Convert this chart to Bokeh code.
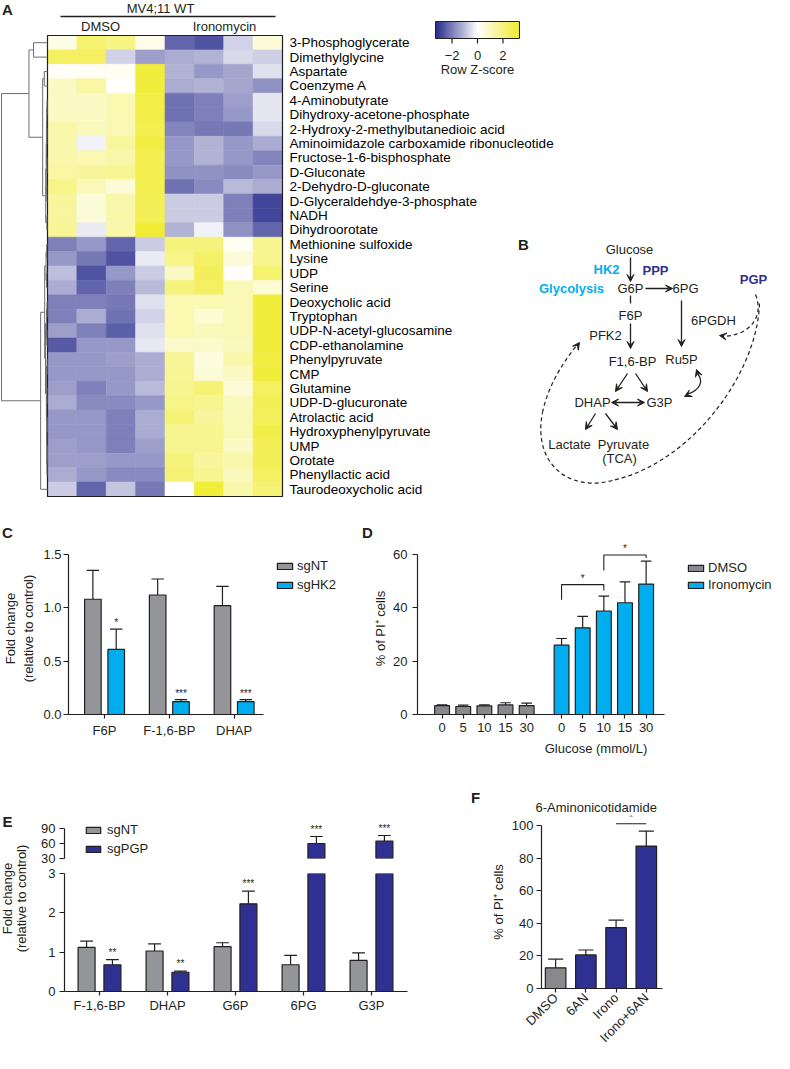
import math
import numpy as np
from bokeh.plotting import figure
from bokeh.layouts import row, column
from bokeh.models import (Range1d, FixedTicker, LinearColorMapper, Legend, LegendItem,
                          Arrow, VeeHead, ColumnDataSource, Title)
from bokeh.embed import file_html
from bokeh.resources import INLINE
from bokeh.core.properties import value

FONT = "Liberation Sans"
INK = "#231f20"
GREY = "#939598"
DGREY = "#88898c"
CYAN = "#00aeef"
NAVY = "#2e3192"

# ---------------- data ----------------
metabolites = [
    "3-Phosphoglycerate", "Dimethylglycine", "Aspartate", "Coenzyme A", "4-Aminobutyrate",
    "Dihydroxy-acetone-phosphate", "2-Hydroxy-2-methylbutanedioic acid",
    "Aminoimidazole carboxamide ribonucleotide", "Fructose-1-6-bisphosphate", "D-Gluconate",
    "2-Dehydro-D-gluconate", "D-Glyceraldehdye-3-phosphate", "NADH", "Dihydroorotate",
    "Methionine sulfoxide", "Lysine", "UDP", "Serine", "Deoxycholic acid", "Tryptophan",
    "UDP-N-acetyl-glucosamine", "CDP-ethanolamine", "Phenylpyruvate", "CMP", "Glutamine",
    "UDP-D-glucuronate", "Atrolactic acid", "Hydroxyphenylpyruvate", "UMP", "Orotate",
    "Phenyllactic acid", "Taurodeoxycholic acid"]
heat_groups = ["DMSO", "Ironomycin"]
z_dmso = [
    [0.4, 2.2, 1.9, 0.3], [2.4, 2.4, -0.7, -1.5], [0.1, 0.15, 0.2, 3.0], [0.9, 1.4, 0.05, 3.0],
    [0.9, 0.9, 1.2, 2.8], [0.9, 0.9, 1.2, 2.8], [1.3, 1.0, 1.1, 2.7], [1.3, -0.2, 1.5, 2.9],
    [1.3, 1.2, 1.3, 2.7], [1.4, 1.5, 1.6, 2.7], [1.8, 1.1, 0.6, 2.7], [1.5, 0.6, 1.3, 2.6],
    [1.5, 0.6, 1.3, 2.6], [1.6, -0.3, 1.3, 3.1], [-2.0, -1.6, -2.4, -0.8], [-1.6, -2.1, -2.7, -0.3],
    [-1.0, -2.7, -1.6, -0.8], [-1.3, -2.4, -2.0, -1.1], [-2.0, -2.0, -2.1, -0.5], [-2.0, -1.3, -2.2, -0.7],
    [-1.5, -2.0, -2.5, -0.5], [-2.6, -1.6, -1.6, -0.35], [-1.6, -1.6, -1.5, -1.3], [-1.6, -1.6, -1.6, -1.3],
    [-1.5, -2.0, -1.6, -1.1], [-1.3, -1.8, -1.8, -1.6], [-1.6, -1.6, -2.0, -1.3], [-1.6, -1.6, -2.0, -1.3],
    [-1.5, -1.6, -2.0, -1.5], [-1.5, -1.5, -1.6, -1.6], [-1.3, -1.6, -1.8, -1.8], [-0.8, -2.4, -0.9, -2.1]]
z_irono = [
    [-2.4, -2.7, -0.7, 0.6], [-1.3, -1.2, -0.6, -0.75], [-1.2, -1.6, -1.4, -0.5], [-1.3, -1.2, -1.4, -1.7],
    [-2.2, -2.0, -1.5, -0.4], [-2.2, -2.0, -1.6, -0.4], [-1.9, -2.1, -2.1, -0.6], [-1.6, -1.2, -1.6, -1.3],
    [-1.6, -1.2, -1.6, -1.9], [-1.7, -1.7, -1.8, -1.6], [-2.2, -1.8, -1.1, -1.3], [-0.8, -0.8, -2.0, -2.9],
    [-0.8, -0.8, -2.0, -2.9], [-1.2, -0.2, -1.7, -2.4], [2.0, 2.0, 0.2, 1.7], [1.8, 2.3, 0.6, 1.7],
    [0.9, 2.5, 0.1, 2.2], [2.0, 2.4, 1.1, 0.7], [1.2, 1.2, 1.1, 3.0], [1.2, 0.7, 1.1, 3.0],
    [1.2, 1.0, 1.1, 3.0], [0.8, 0.8, 1.0, 3.0], [1.6, 0.5, 1.3, 2.9], [1.6, 0.6, 0.9, 3.0],
    [1.7, 2.1, 0.6, 2.4], [1.8, 1.7, 1.0, 2.6], [2.1, 1.5, 1.1, 2.5], [1.7, 1.7, 1.1, 2.8],
    [1.7, 1.7, 0.9, 2.6], [2.0, 1.5, 1.3, 2.6], [2.1, 1.7, 1.0, 2.4], [0.0, 3.0, 1.3, 2.1]]
zscore_ticks = [-2, 0, 2]
# row dendrogram: [left, right, merge height]; leaves are row indices
dendro_top = [[0, 1, 17.3],
              [[2, 3, 4.0],
               [[[[[4, 5, 0.6], [6, 7, 0.8], 1.0], [8, 9, 0.7], 1.3], [10, 11, 0.9], 1.6], [12, 13, 0.8], 2.2],
               6.0],
              23.0]
dendro_bottom = [[[[14, 15, 1.0], [16, 17, 1.2], 1.8],
                  [[[18, 19, 0.6], [20, 21, 0.8], 1.2],
                   [[22, 23, 0.5], [[24, 25, 0.7], [[26, 27, 0.4], [[28, 29, 0.4], 30, 0.7], 0.9], 1.1], 1.4],
                   2.5],
                  3.5],
                 31, 8.5]
dendro_root = [dendro_top, dendro_bottom, 57.0]

c_categories = ["F6P", "F-1,6-BP", "DHAP"]
c_sgnt = [1.08, 1.12, 1.02]
c_sgnt_sem = [0.27, 0.15, 0.18]
c_sghk2 = [0.61, 0.12, 0.12]
c_sghk2_sem = [0.19, 0.02, 0.02]
c_stars = ["*", "***", "***"]

d_glucose = ["0", "5", "10", "15", "30"]
d_dmso = [3.3, 3.0, 3.2, 3.6, 3.3]
d_dmso_sem = [0.3, 0.5, 0.4, 0.8, 1.0]
d_irono = [26.0, 32.5, 38.8, 41.9, 48.9]
d_irono_sem = [2.5, 4.3, 5.6, 7.8, 8.6]
d_pairs = [(0, 2), (2, 4)]
d_pair_stars = ["*", "*"]

e_categories = ["F-1,6-BP", "DHAP", "G6P", "6PG", "G3P"]
e_sgnt = [1.12, 1.03, 1.14, 0.68, 0.79]
e_sgnt_sem = [0.16, 0.18, 0.10, 0.24, 0.19]
e_sgpgp = [0.68, 0.49, 2.23, 60.0, 65.0]
e_sgpgp_sem = [0.13, 0.03, 0.32, 14.0, 11.0]
e_stars = ["**", "**", "***", "***", "***"]

f_treatments = ["DMSO", "6AN", "Irono", "Irono+6AN"]
f_values = [12.7, 20.6, 37.3, 87.3]
f_sem = [5.3, 3.0, 4.6, 9.2]
f_colors = [DGREY, NAVY, NAVY, NAVY]
f_pair = (2, 3)
f_pair_star = "*"


# ---------------- helpers ----------------
def rng(page_a, page_b, page_ref, val_ref, ppu):
    """Range whose start sits at page coordinate page_a and end at page_b."""
    return Range1d(val_ref + (page_a - page_ref) / ppu, val_ref + (page_b - page_ref) / ppu)


def make_fig(width, height, xr, yr, left=0, right=0, top=0, bottom=0, xloc="below", yloc="left"):
    p = figure(width=width, height=height, x_range=xr, y_range=yr, title=None,
               output_backend="svg", toolbar_location=None,
               x_axis_location=xloc, y_axis_location=yloc,
               min_border_left=left, min_border_right=right,
               min_border_top=top, min_border_bottom=bottom)
    p.background_fill_color = None
    p.border_fill_color = None
    p.outline_line_color = None
    p.grid.visible = False
    return p


def style_axis(ax, size="13px", tick_out=5, standoff=3):
    ax.axis_line_color = INK
    ax.axis_line_width = 1.2
    ax.major_tick_line_color = INK
    ax.major_tick_line_width = 1.2
    ax.major_tick_out = tick_out
    ax.major_tick_in = 0
    ax.minor_tick_line_color = None
    ax.major_label_standoff = standoff
    ax.major_label_text_font = FONT
    ax.major_label_text_font_size = size
    ax.major_label_text_color = INK
    ax.axis_label_text_font = FONT
    ax.axis_label_text_font_size = size
    ax.axis_label_text_font_style = "normal"
    ax.axis_label_text_color = INK


def error_bars(p, xs, vals, sems, capw):
    tops = [v + s for v, s in zip(vals, sems)]
    p.segment(x0=xs, y0=vals, x1=xs, y1=tops, line_color=INK, line_width=1.2)
    p.segment(x0=[x - capw / 2 for x in xs], y0=tops, x1=[x + capw / 2 for x in xs], y1=tops,
              line_color=INK, line_width=1.2)
    return tops


def stars(p, xs, ys, labels, off=-1):
    p.text(x=xs, y=ys, text=labels, text_align="center", text_baseline="bottom", y_offset=off,
           text_font=value(FONT), text_font_size="10px", text_color=INK)


def legend(p, renderers, labels, loc, row_h, gw=19, gh=8, standoff=3):
    lg = Legend(items=[LegendItem(label=l, renderers=[r]) for l, r in zip(labels, renderers)],
                location=loc, orientation="vertical")
    lg.border_line_color = None
    lg.background_fill_alpha = 0
    lg.inactive_fill_alpha = 0
    lg.padding = 0
    lg.margin = 0
    lg.spacing = 0
    lg.glyph_width = gw
    lg.glyph_height = gh
    lg.label_height = row_h
    lg.label_standoff = standoff
    lg.label_text_font = FONT
    lg.label_text_font_size = "13px"
    lg.label_text_color = INK
    p.add_layout(lg)


def ptext(p, x, y, s, size="13px", color=INK, style="normal", align="center", angle=0.0, **kw):
    p.text(x=[x], y=[y], text=[s], text_font=value(FONT), text_font_size=size, text_color=color,
           text_font_style=style, text_align=align, text_baseline="middle", angle=angle, **kw)


def ramp(c0, c1, n):
    return ["#%02x%02x%02x" % tuple(int(round(a + (b - a) * t)) for a, b in zip(c0, c1))
            for t in np.linspace(0, 1, n)]


# ================= row 1: panels A and B (page coords 8..782 x 8..550) =================
top = make_fig(774, 542, Range1d(8, 782), Range1d(550, 8), xloc=None, yloc=None)
CELL_W, CELL_H = 29.375, 461 / 32
top.extra_x_ranges = {
    "hx": rng(8, 782, 55 + CELL_W / 2, 0, CELL_W),      # heatmap column index
    "dx": rng(8, 782, 55, 0, -0.807),                   # dendrogram height
    "cbx": rng(8, 782, 485, 0, 12.727),                 # colour-key z score
}
top.extra_y_ranges = {
    "hy": rng(550, 8, 43 + CELL_H / 2, 0, CELL_H),      # heatmap row index (downwards)
    "cby": rng(550, 8, 46, 0, -17),                     # colour-key bar height
}

palette = ramp((40, 45, 140), (255, 255, 255), 128) + ramp((255, 255, 255), (240, 235, 40), 128)[1:]
mapper = LinearColorMapper(palette=palette, low=-3.3, high=3.3)

hx, hy, hz = [], [], []
for r in range(len(metabolites)):
    for c, zv in enumerate(z_dmso[r] + z_irono[r]):
        hx.append(c)
        hy.append(r)
        hz.append(zv)
top.rect(x="x", y="y", width=1, height=1, source=ColumnDataSource(dict(x=hx, y=hy, z=hz)),
         fill_color={"field": "z", "transform": mapper},
         line_color={"field": "z", "transform": mapper}, line_width=0.6,
         x_range_name="hx", y_range_name="hy")
ncol = len(z_dmso[0]) + len(z_irono[0])
top.quad(left=[-0.5], right=[ncol - 0.5], top=[-0.5], bottom=[len(metabolites) - 0.5],
         fill_color=None, line_color=INK, line_width=1.2, x_range_name="hx", y_range_name="hy")
top.text(x=[ncol - 0.5 + 7 / CELL_W] * len(metabolites), y=list(range(len(metabolites))), text=metabolites,
         text_font=value(FONT), text_font_size="13.5px", text_color="#000000",
         text_align="left", text_baseline="middle", x_range_name="hx", y_range_name="hy")

dxs, dys = [], []


def walk(node):
    if isinstance(node, int):
        return float(node), 0.0
    a, b, h = node
    y1, h1 = walk(a)
    y2, h2 = walk(b)
    dxs.append([h1, h, h, h2])
    dys.append([y1, y1, y2, y2])
    return (y1 + y2) / 2, h


walk(dendro_root)
top.multi_line(xs=dxs, ys=dys, line_color="#6d6e71", line_width=1, x_range_name="dx", y_range_name="hy")

# colour key
top.image(image=[np.linspace(-3.3, 3.3, 256)[None, :]], x=-3.3, y=0, dw=6.6, dh=1, color_mapper=mapper,
          x_range_name="cbx", y_range_name="cby")
top.quad(left=[-3.3], right=[3.3], bottom=[0], top=[1], fill_color=None, line_color=INK, line_width=1,
         x_range_name="cbx", y_range_name="cby")
top.segment(x0=zscore_ticks, y0=[0] * 3, x1=zscore_ticks, y1=[-5 / 17] * 3, line_color=INK, line_width=1.2,
            x_range_name="cbx", y_range_name="cby")
top.text(x=zscore_ticks, y=[-1.0] * 3, text=["\u22122" if t < 0 else str(t) for t in zscore_ticks],
         text_font=value(FONT), text_font_size="13px", text_color=INK, text_align="center",
         text_baseline="middle", x_range_name="cbx", y_range_name="cby")
ptext(top, 0, -1.85, "Row Z-score", x_range_name="cbx", y_range_name="cby")

# panel letters and heatmap header
for letter, (lx, ly) in zip("ABCD", [(15, 17), (531, 252), (15, 540), (375, 540)]):
    ptext(top, lx, ly, letter, size="15px", style="bold")
ptext(top, 168, 15.5, "MV4;11 WT")
top.segment(x0=[68], y0=[24], x1=[283], y1=[24], line_color=INK, line_width=1.3)
ptext(top, 108, 33.5, heat_groups[0])
ptext(top, 232, 33.5, heat_groups[1])


def arrow(x0, y0, x1, y1, both=False, shaft=True):
    head = dict(size=7, fill_color=INK, line_color=INK, line_width=1)
    a = Arrow(end=VeeHead(**head), start=VeeHead(**head) if both else None,
              x_start=x0, y_start=y0, x_end=x1, y_end=y1,
              line_color=INK if shaft else None, line_width=1.3)
    top.add_layout(a)


# pathway B
for s, x, y in [("Glucose", 637, 257), ("G6P", 638, 296), ("6PG", 693, 296), ("F6P", 638, 323),
                ("6PGDH", 721, 328), ("PFK2", 613, 343), ("F1,6-BP", 640, 369), ("Ru5P", 689, 367),
                ("DHAP", 600, 410), ("G3P", 667, 410), ("Lactate", 577, 452), ("Pyruvate", 631, 452),
                ("(TCA)", 627, 466)]:
    ptext(top, x, y, s)
for s, x, y, col in [("HK2", 614, 277, CYAN), ("PPP", 663, 278, NAVY), ("Glycolysis", 579, 296, CYAN),
                     ("PGP", 761, 287, NAVY)]:
    ptext(top, x, y, s, color=col, style="bold")

arrow(638, 265, 638, 289)
arrow(653, 296, 680, 296)
top.segment(x0=[638], y0=[303], x1=[638], y1=[311], line_color=INK, line_width=1.3)
arrow(638, 331, 638, 356)
arrow(689, 308, 689, 354)
arrow(635, 381, 623, 399)
arrow(643, 381, 655, 399)
arrow(619, 410, 652, 410, both=True)
arrow(603, 421, 593, 437)
arrow(613, 421, 625, 437)
top.bezier(x0=[704], y0=[380], x1=[694], y1=[402], cx0=[712], cy0=[388], cx1=[708], cy1=[398],
           line_color=INK, line_width=1.3)
arrow(706, 383, 704, 377, shaft=False)
arrow(698, 401, 692, 404, shaft=False)
dash = dict(line_color=INK, line_width=1.2, line_dash="4 3")
top.bezier(x0=[763], y0=[302], x1=[730], y1=[344], cx0=[772], cy0=[325], cx1=[757], cy1=[343], **dash)
arrow(734, 344, 727, 343, shaft=False)
top.bezier(x0=[767, 620, 550], y0=[311, 488, 420], x1=[620, 550, 585], y1=[488, 420, 352],
           cx0=[765, 575, 555], cy0=[380, 500, 395], cx1=[700, 540, 570], cy1=[470, 470, 370], **dash)
arrow(582, 357, 587, 350, shaft=False)

# ================= row 2: panels C and D (page y 550..790) =================
# C: frame page x 68..378, y 550..723
pc = make_fig(370, 240, rng(68, 378, 105, 0, 66.5), rng(723, 550, 723, 0, -107.33),
              left=60, right=0, top=0, bottom=67)
cx = list(range(len(c_categories)))
c_off, c_w = 0.18, 0.256
x_nt = [i - c_off for i in cx]
x_hk = [i + c_off for i in cx]
error_bars(pc, x_nt, c_sgnt, c_sgnt_sem, c_w * 0.75)
t_hk = error_bars(pc, x_hk, c_sghk2, c_sghk2_sem, c_w * 0.75)
rc1 = pc.vbar(x=x_nt, top=c_sgnt, width=c_w, fill_color=GREY, line_color=INK, line_width=1.2)
rc2 = pc.vbar(x=x_hk, top=c_sghk2, width=c_w, fill_color=CYAN, line_color=INK, line_width=1.2)
stars(pc, x_hk, t_hk, c_stars, off=-1)
ax = pc.xaxis[0]
style_axis(ax, tick_out=4, standoff=4)
ax.ticker = FixedTicker(ticks=cx)
ax.major_label_overrides = {i: n for i, n in enumerate(c_categories)}
ax.bounds = (pc.x_range.start, len(c_categories) - 0.55)
ay = pc.yaxis[0]
style_axis(ay, tick_out=5, standoff=2)
ay.ticker = FixedTicker(ticks=[0, 0.5, 1.0, 1.5])
ay.major_label_overrides = {0: "0.0", 0.5: "0.5", 1: "1.0", 1.5: "1.5"}
ay.bounds = (0, 1.5)
ay.axis_label = "Fold change\n(relative to control)"
ay.axis_label_standoff = 4
legend(pc, [rc1, rc2], ["sgNT", "sgHK2"], (207, 120), 19)

# D: frame page x 419..782, y 550..722
pdd = make_fig(404, 240, rng(419, 782, 444, 0, 21.5), rng(722, 550, 722, 0, -2.667),
               left=41, right=0, top=0, bottom=68)
d_gap = 5.65
dx_dmso = list(range(len(d_glucose)))
dx_iron = [i + d_gap for i in range(len(d_glucose))]
d_w = 0.7
error_bars(pdd, dx_dmso, d_dmso, d_dmso_sem, 0.5)
error_bars(pdd, dx_iron, d_irono, d_irono_sem, 0.5)
rd1 = pdd.vbar(x=dx_dmso, top=d_dmso, width=d_w, fill_color=DGREY, line_color=INK, line_width=1.2)
rd2 = pdd.vbar(x=dx_iron, top=d_irono, width=d_w, fill_color=CYAN, line_color=INK, line_width=1.2)
d_bracket_level = [48.7, 59.8]
d_leg_left = [43.0, 54.0]
d_leg_right = [46.5, 58.7]
for (a, b), lvl, ll, rl in zip(d_pairs, d_bracket_level, d_leg_left, d_leg_right):
    xa, xb = dx_iron[a], dx_iron[b]
    pdd.multi_line(xs=[[xa, xa, xb, xb]], ys=[[ll, lvl, lvl, rl]], line_color=INK, line_width=1.1)
stars(pdd, [(dx_iron[a] + dx_iron[b]) / 2 for a, b in d_pairs], d_bracket_level, d_pair_stars, off=-1)
ax = pdd.xaxis[0]
style_axis(ax, tick_out=4, standoff=4)
ax.ticker = FixedTicker(ticks=dx_dmso + dx_iron)
ax.major_label_overrides = {x: g for x, g in zip(dx_dmso + dx_iron, d_glucose + d_glucose)}
ax.bounds = (pdd.x_range.start, dx_iron[-1] + 0.86)
ax.axis_label = "Glucose (mmol/L)"
ax.axis_label_standoff = 6
ay = pdd.yaxis[0]
style_axis(ay, tick_out=5, standoff=5)
ay.ticker = FixedTicker(ticks=[0, 20, 40, 60])
ay.bounds = (0, 60)
ay.axis_label = "% of PI\u207a cells"
ay.axis_label_standoff = 2
legend(pdd, [rd1, rd2], ["DMSO", "Ironomycin"], (269, 121), 17)

# ================= row 3: panels E and F (page y 790..1061) =================
ecol = make_fig(32, 271, Range1d(8, 40), Range1d(1061, 790), xloc=None, yloc=None)
ptext(ecol, 15, 799, "E", size="15px", style="bold")
ptext(ecol, 15, 920, "Fold change", angle=math.pi / 2)
ptext(ecol, 29, 920, "(relative to control)", angle=math.pi / 2)

E_BREAK = 30
E_LOW_MAX = 3
e_xr = rng(72, 495, 107, 0, 68)
ex = list(range(len(e_categories)))
e_off, e_w = 0.19, 0.25
ex_nt = [i - e_off for i in ex]
ex_pg = [i + e_off for i in ex]
# upper segment: frame page x 72..495, y 790..866 (30 -> 866, 0.5 px per unit)
peu = make_fig(455, 83, e_xr, rng(866, 790, 866, E_BREAK, -0.5), left=32, right=0, top=0, bottom=7, xloc=None)
# lower segment: frame page y 881..999 (0..3)
pel = make_fig(455, 188, e_xr, Range1d(0, E_LOW_MAX), left=32, right=0, top=8, bottom=62)


def draw_e(p, lo, hi):
    keep_nt = [i for i, v in enumerate(e_sgnt) if v > lo]
    keep_pg = [i for i, v in enumerate(e_sgpgp) if v > lo]
    xn = [ex_nt[i] for i in keep_nt]
    xp = [ex_pg[i] for i in keep_pg]
    error_bars(p, xn, [e_sgnt[i] for i in keep_nt], [e_sgnt_sem[i] for i in keep_nt], e_w * 0.75)
    tp = error_bars(p, xp, [e_sgpgp[i] for i in keep_pg], [e_sgpgp_sem[i] for i in keep_pg], e_w * 0.75)
    r1 = p.vbar(x=xn, top=[e_sgnt[i] for i in keep_nt], width=e_w, fill_color=GREY, line_color=INK,
                line_width=1.2)
    r2 = p.vbar(x=xp, top=[e_sgpgp[i] for i in keep_pg], width=e_w, fill_color=NAVY, line_color=INK,
                line_width=1.2)
    s_idx = [k for k, t in enumerate(tp) if t < hi]
    stars(p, [xp[k] for k in s_idx], [tp[k] for k in s_idx], [e_stars[keep_pg[k]] for k in s_idx], off=-2)
    return r1, r2


draw_e(pel, 0, E_LOW_MAX)
_, r_pg_up = draw_e(peu, E_BREAK, 1e9)
# legend key for sgNT in the upper segment (no sgNT bar reaches it): hidden full-data renderer
r_nt_key = peu.vbar(x=ex_nt, top=e_sgnt, width=e_w, fill_color=GREY, line_color=INK, line_width=1.2,
                    visible=False)
ax = pel.xaxis[0]
style_axis(ax, tick_out=4, standoff=2)
ax.ticker = FixedTicker(ticks=ex)
ax.major_label_overrides = {i: n for i, n in enumerate(e_categories)}
ax.bounds = (e_xr.start, len(e_categories) - 0.47)
ay = pel.yaxis[0]
style_axis(ay, tick_out=5, standoff=4)
ay.ticker = FixedTicker(ticks=[0, 1, 2, 3])
ay.bounds = (0, E_LOW_MAX)
ay = peu.yaxis[0]
style_axis(ay, tick_out=5, standoff=4)
ay.ticker = FixedTicker(ticks=[30, 60, 90])
ay.bounds = (30, 90)
legend(peu, [r_nt_key, r_pg_up], ["sgNT", "sgPGP"], (20, 0), 19, gw=18, gh=8, standoff=5)
peu.extra_x_ranges = {"px": Range1d(72, 495)}
peu.extra_y_ranges = {"py": Range1d(866, 790)}
ptext(peu, 483, 805, "F", size="15px", style="bold", x_range_name="px", y_range_name="py")

# F: frame page x 543..782, y 823..998
pf = make_fig(287, 271, rng(543, 782, 557.5, 0, 31), rng(998, 823, 998, 0, -1.65),
              left=48, right=0, top=33, bottom=63)
fx = list(range(len(f_treatments)))
error_bars(pf, fx, f_values, f_sem, 0.5)
pf.vbar(x=fx, top=f_values, width=0.68, fill_color=f_colors, line_color=INK, line_width=1.2)
f_bracket_level = 101.0
pf.segment(x0=[fx[f_pair[0]]], y0=[f_bracket_level], x1=[fx[f_pair[1]]], y1=[f_bracket_level],
           line_color=INK, line_width=1.1)
stars(pf, [(fx[f_pair[0]] + fx[f_pair[1]]) / 2], [f_bracket_level], [f_pair_star], off=-1)
ax = pf.xaxis[0]
style_axis(ax, tick_out=4, standoff=3)
ax.ticker = FixedTicker(ticks=fx)
ax.major_label_overrides = {i: n for i, n in enumerate(f_treatments)}
ax.major_label_orientation = math.pi / 4
ax.bounds = (pf.x_range.start, len(f_treatments) - 0.45)
ay = pf.yaxis[0]
style_axis(ay, tick_out=5, standoff=3)
ay.ticker = FixedTicker(ticks=[0, 20, 40, 60, 80, 100])
ay.bounds = (0, 100)
ay.axis_label = "% of PI\u207a cells"
ay.axis_label_standoff = 3
pf.title = Title(text="6-Aminonicotidamide", align="left", offset=-6, standoff=2,
                 text_font=FONT, text_font_size="13px", text_font_style="normal", text_color=INK)

layout = column(top,
                row(pc, pdd),
                row(ecol, column(peu, pel), pf))
open("out.html", "w").write(file_html(layout, INLINE, title="Figure"))
